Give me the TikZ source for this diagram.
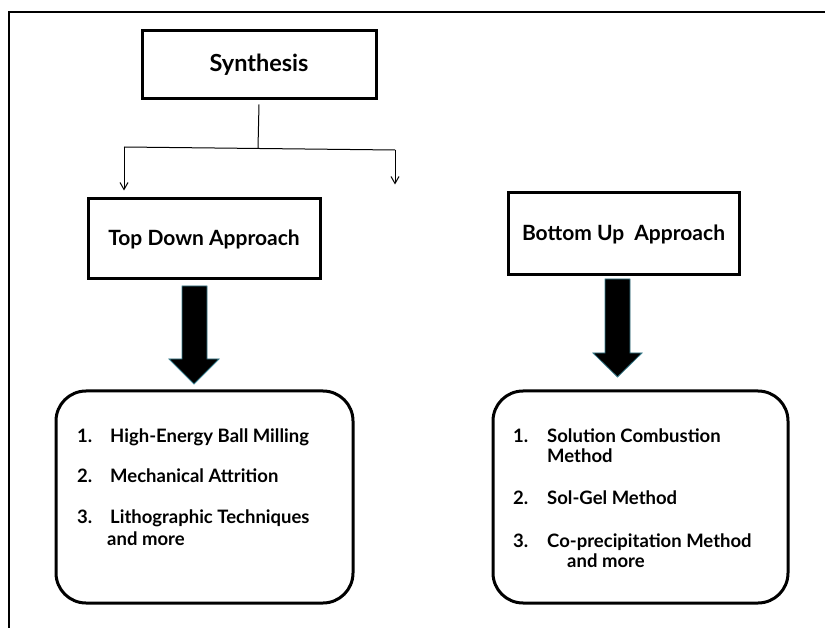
\documentclass[tikz,border=0pt]{standalone}
\usepackage{fontspec}
\setmainfont{Lato}
\usetikzlibrary{arrows.meta}
\definecolor{arrowedge}{HTML}{3A7F8F}
\begin{document}
\begin{tikzpicture}[x=1pt,y=-1pt,
  box/.style={draw=black,line width=3pt,inner sep=0pt},
  listbox/.style={box,rounded corners=30pt,minimum width=297pt,minimum height=212pt},
  thin/.style={line width=1pt},
  thinarrow/.style={thin,-{Straight Barb[length=7pt,width=8pt]}},
  bigarrow/.style={fill=black,draw=arrowedge,line width=0.8pt,line join=miter},
  item/.style={anchor=base west,inner sep=0pt,font=\fontsize{18.5}{22}\selectfont\bfseries},
  approach/.style={box,font=\fontsize{21}{25}\selectfont\bfseries},
]
\useasboundingbox (0,0) rectangle (825,628);

% outer frame (top and left edges)
\draw[line width=2.6pt] (9,628) -- (9,12) -- (825,12);

% title box
\node[box,minimum width=234pt,minimum height=68pt,font=\fontsize{23.5}{28}\selectfont\bfseries]
  (syn) at (259,65) {Synthesis};

% approach boxes
\node[approach,minimum width=232pt,minimum height=80pt] (td) at (204,239) {Top Down Approach};
\node[approach,minimum width=231pt,minimum height=82pt] (bu) at (623.5,234) {Bottom Up\ \ Approach};

% branching connectors
\coordinate (split) at (258,148);
\coordinate (jl) at (124,147);
\coordinate (jr) at (395,150);
\draw[thin] (syn.south) ++(0,4) -- (split);
\draw[thin] (jl) -- (jr);
\draw[thinarrow,shorten >=7pt] (jl) -- (jl |- td.north);
\draw[thinarrow,shorten >=7pt] (jr) -- (jr |- bu.north);

% method boxes
\node[listbox] (tdl) at (204.5,497) {};
\node[listbox,minimum width=295pt] (bul) at (640.5,497) {};

% thick arrows from approach boxes to method lists
\draw[bigarrow] (182,286) -- (207,286) -- (207,359) -- (219,359) -- (194,384)
  -- (169,359) -- (182,359) -- cycle;
\draw[bigarrow] (605,279) -- (630,279) -- (630,353) -- (642,353) -- (617.5,377)
  -- (593,353) -- (605,353) -- cycle;

% top-down methods
\node[item] (t1n) at (77,442) {1.};
\node[item] (t1) at (110,442) {High-Energy Ball Milling};
\node[item] (t2n) at (77,482) {2.};
\node[item] (t2) at (110,482) {Mechanical Attrition};
\node[item] (t3n) at (77,523) {3.};
\node[item] (t3) at (110,523) {Lithographic Techniques};
\node[item] (t3b) at (107,545) {and more};

% bottom-up methods
\node[item] (b1n) at (513,442) {1.};
\node[item] (b1) at (547,442) {Solution Combustion};
\node[item] (b1b) at (547,462) {Method};
\node[item] (b2n) at (513,504) {2.};
\node[item] (b2) at (547,504) {Sol-Gel Method};
\node[item] (b3n) at (513,547) {3.};
\node[item] (b3) at (547,547) {Co-precipitation Method};
\node[item] (b3b) at (567,567) {and more};
\end{tikzpicture}
\end{document}
